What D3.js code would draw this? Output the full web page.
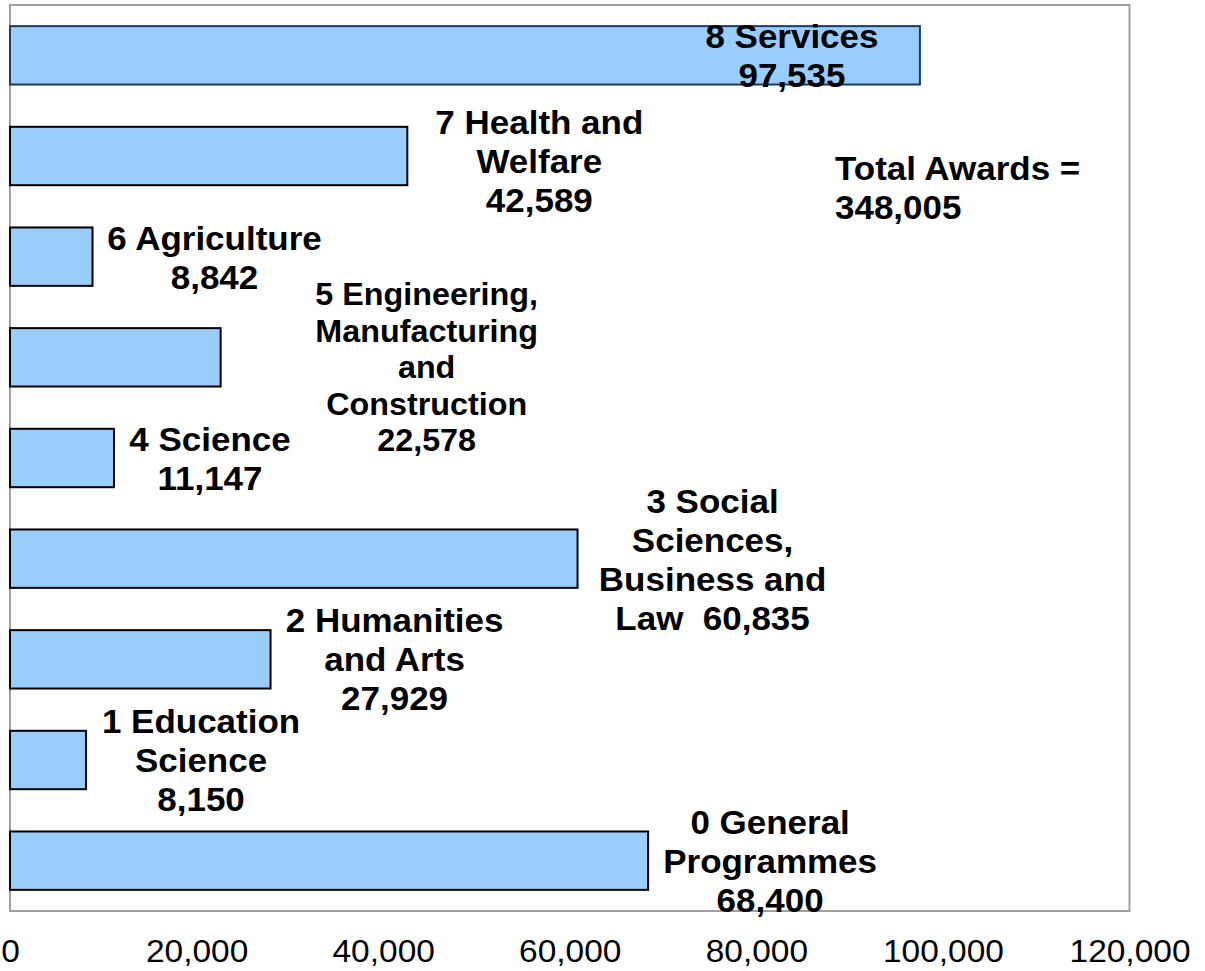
<!DOCTYPE html>
<html>
<head>
<meta charset="utf-8">
<script src="https://cdn.jsdelivr.net/npm/d3@7"></script>
<style>
  body { margin: 0; background: #fff; }
  text { font-family: "Liberation Sans", Arial, sans-serif; }
</style>
</head>
<body>
<script>
'use strict';

// categories top to bottom, as drawn
let codes = ["8", "7", "6", "5", "4", "3", "2", "1", "0"];
let awards = [97535, 42589, 8842, 22578, 11147, 60835, 27929, 8150, 68400];
// label text lines (value is added after)
let labelLines = [
  ["8 Services"],
  ["7 Health and", "Welfare"],
  ["6 Agriculture"],
  ["5 Engineering,", "Manufacturing", "and", "Construction"],
  ["4 Science"],
  ["3 Social", "Sciences,", "Business and", "Law"],
  ["2 Humanities", "and Arts"],
  ["1 Education", "Science"],
  ["0 General", "Programmes"]
];
let xTicks = [0, 20000, 40000, 60000, 80000, 100000, 120000];

// label offsets from bar end (x) and band centre (y), in px
let labelDx = [-128, 132, 122, 206, 96, 135, 124, 115, 122];
let labelDy = [0, 5, 1, 10, 1, 1, 0, 0, 0];

(function() {
  let fmt = d3.format(",");
  let stretch = 1.06; // the original text is a bit wide

  let svg = d3.select('body')
    .append('svg')
    .attr('width', 1205)
    .attr('height', 971);

  let xScale = d3.scaleLinear()
    .domain([0, 120000])
    .range([10, 1129.5]);

  let yScale = d3.scaleBand()
    .domain(codes)
    .range([5, 911])
    .paddingInner(0.42)
    .paddingOuter(0.21);

  // plot frame
  svg.append('rect')
    .attr('x', 10)
    .attr('y', 5)
    .attr('width', 1119.5)
    .attr('height', 906)
    .attr('fill', 'none')
    .attr('stroke', '#a0a0a0')
    .attr('stroke-width', 2);

  let data = codes.map((c, i) => ({
    code: c, value: awards[i], lines: labelLines[i], dx: labelDx[i], dy: labelDy[i]
  }));

  // bars
  svg.selectAll('.bar')
    .data(data)
    .enter()
    .append('rect')
    .attr('class', 'bar')
    .attr('x', xScale(0))
    .attr('y', d => yScale(d.code))
    .attr('width', d => xScale(d.value) - xScale(0))
    .attr('height', yScale.bandwidth())
    .attr('fill', '#99ccff')
    .attr('stroke', d => d.code == "8" ? '#1f3864' : '#000')
    .attr('stroke-width', 2);

  // x axis tick labels
  let xAxis = d3.axisBottom(xScale)
    .tickValues(xTicks)
    .tickSize(0)
    .tickPadding(0)
    .tickFormat(fmt);
  let ax = svg.append('g')
    .attr('transform', 'translate(0, 962)')
    .call(xAxis);
  ax.select('.domain').remove();
  ax.selectAll('text')
    .attr('y', 0)
    .attr('dy', 0)
    .attr('fill', '#000')
    .attr('transform', 'scale(1.08,1)')
    .style('font-size', '31px');

  // bar labels
  data.forEach(d => {
    let lines = d.lines.slice();
    if (d.code == "3") {
      lines[lines.length - 1] += "\u00a0\u00a0" + fmt(d.value);
    } else {
      lines.push(fmt(d.value));
    }
    let small = d.code == "5";
    let size = small ? 30.5 : 33;
    let lh = small ? 36.5 : 39;
    let cx = xScale(d.value) + d.dx;
    let cy = yScale(d.code) + yScale.bandwidth() / 2 + d.dy;
    let top = cy - (lines.length - 1) * lh / 2;
    let t = svg.append('text')
      .attr('text-anchor', 'middle')
      .attr('transform', 'translate(' + cx + ',0) scale(' + stretch + ',1)')
      .style('font-size', size + 'px')
      .style('font-weight', 'bold');
    lines.forEach((l, k) => {
      t.append('tspan')
        .attr('x', 0)
        .attr('y', top + k * lh)
        .attr('dy', '0.36em')
        .text(l);
    });
  });

  // total
  let total = d3.sum(awards);
  let tt = svg.append('text')
    .attr('transform', 'translate(835,0) scale(' + stretch + ',1)')
    .style('font-size', '33px')
    .style('font-weight', 'bold');
  tt.append('tspan').attr('x', 0).attr('y', 168).attr('dy', '0.36em').text('Total Awards =');
  tt.append('tspan').attr('x', 0).attr('y', 207).attr('dy', '0.36em').text(fmt(total));
})();
</script>
</body>
</html>
